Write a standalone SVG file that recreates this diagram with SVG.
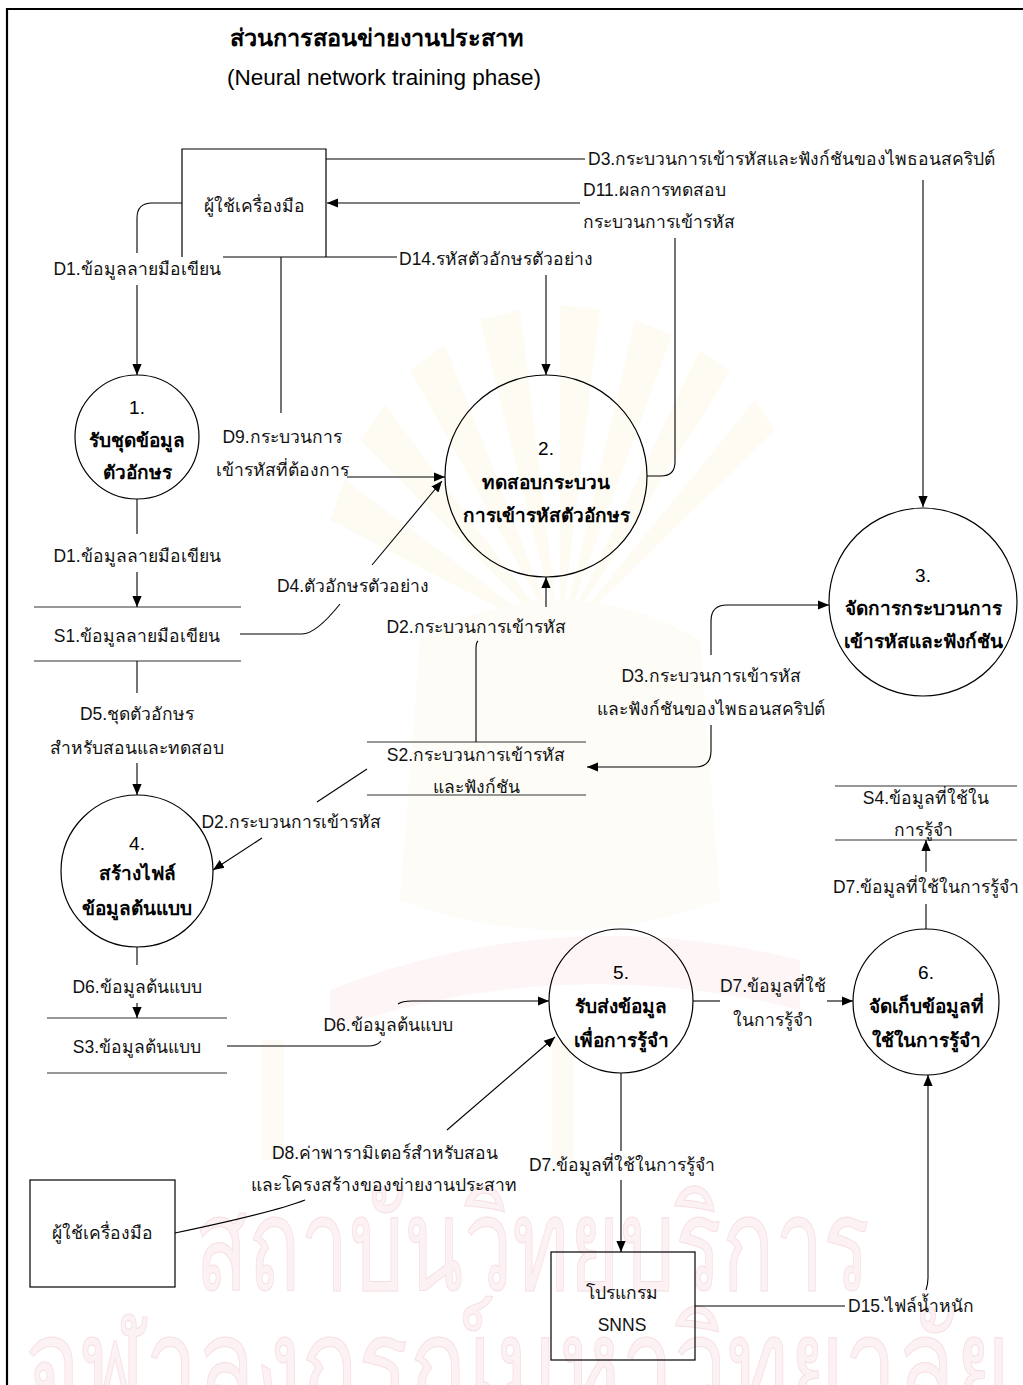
<svg xmlns="http://www.w3.org/2000/svg" width="1023" height="1385" viewBox="0 0 1023 1385">
  <style>
    .lbl { font-family: "Liberation Sans", "Noto Sans", sans-serif; font-size: 17.5px; fill: #111; text-anchor: middle; dominant-baseline: central; }
    .lft { text-anchor: start; }
    .nd { font-family: "Liberation Sans", "Noto Sans", sans-serif; font-size: 19px; fill: #000; text-anchor: middle; dominant-baseline: central; }
    .b { font-weight: bold; }
    .shape { fill: none; stroke: #000; stroke-width: 1.2; }
    .store { stroke: #333; stroke-width: 1.2; }
    .wire { fill: none; stroke: #000; stroke-width: 1.1; }
    .arr { marker-end: url(#ah); }
    .wm { font-family: "Liberation Sans", "Noto Sans", sans-serif; font-size: 130px; fill: #fcf1f3; stroke: #f6dfe3; stroke-width: 1; }
    .ray { fill: #fdfbf2; }
  </style>
  <defs>
    <marker id="ah" viewBox="0 0 10 10" refX="10" refY="5" markerWidth="11" markerHeight="11" markerUnits="userSpaceOnUse" orient="auto">
      <path d="M0,0.8 L10,5 L0,9.2 Z" fill="#000"/>
    </marker>
  </defs>

  <rect width="1023" height="1385" fill="#fff"/>

  <!-- faint emblem behind the chart: rays, crown body and ribbon -->
  <g id="emblem">
    <path class="ray" d="M560,640 L330,520 L345,480 Z M560,640 L360,440 L385,405 Z M560,640 L410,370 L445,345 Z M560,640 L480,320 L520,310 Z M560,640 L560,305 L600,310 Z M560,640 L635,320 L672,335 Z M560,640 L700,350 L730,372 Z M560,640 L755,400 L775,430 Z"/>
    <path d="M420,640 Q560,560 700,640 L720,900 Q560,960 400,900 Z" fill="#fdfcf7"/>
    <path d="M330,990 Q560,900 800,960 L800,1010 Q560,950 330,1030 Z" fill="#fdf5f6"/>
    <path d="M262,1040 h22 v120 h-22 Z M552,1040 h22 v120 h-22 Z" fill="#fdfbf4"/>
  </g>

  <!-- background watermark lettering -->
  <g id="watermark">
    <text class="wm" x="195" y="1290" textLength="675" lengthAdjust="spacingAndGlyphs">สถาบันวิทยบริการ</text>
    <text class="wm" x="25" y="1410" textLength="985" lengthAdjust="spacingAndGlyphs">จุฬาลงกรณ์มหาวิทยาลัย</text>
  </g>

  <!-- page frame -->
  <path d="M7,1385 V9 H1023" fill="none" stroke="#000" stroke-width="2.2"/>

  <g id="title">
    <text class="nd b" x="376" y="38" style="font-size:23.5px">ส่วนการสอนข่ายงานประสาท</text>
    <text class="nd" x="384" y="77" style="font-size:22.5px">(Neural network training phase)</text>
  </g>

  <!-- external entities -->
  <g id="user-top">
    <path class="shape" d="M182,257 V149 H326 V257 M223,257 H326"/>
    <text class="lbl" x="254" y="206">ผู้ใช้เครื่องมือ</text>
  </g>
  <g id="user-bottom">
    <rect class="shape" x="30" y="1180" width="145" height="107"/>
    <text class="lbl" x="102" y="1233">ผู้ใช้เครื่องมือ</text>
  </g>
  <g id="snns">
    <rect class="shape" x="551" y="1252" width="144" height="108"/>
    <text class="lbl" x="622" y="1293">โปรแกรม</text>
    <text class="lbl" x="622" y="1325">SNNS</text>
  </g>

  <!-- processes -->
  <g id="p1">
    <circle class="shape" cx="137" cy="437" r="62"/>
    <text class="nd" x="137" y="407">1.</text>
    <text class="nd b" x="137" y="440">รับชุดข้อมูล</text>
    <text class="nd b" x="137" y="472">ตัวอักษร</text>
  </g>
  <g id="p2">
    <circle class="shape" cx="546" cy="476" r="101"/>
    <text class="nd" x="546" y="448">2.</text>
    <text class="nd b" x="546" y="482">ทดสอบกระบวน</text>
    <text class="nd b" x="546" y="515">การเข้ารหัสตัวอักษร</text>
  </g>
  <g id="p3">
    <circle class="shape" cx="923" cy="602" r="94"/>
    <text class="nd" x="923" y="575">3.</text>
    <text class="nd b" x="923" y="608">จัดการกระบวนการ</text>
    <text class="nd b" x="923" y="641">เข้ารหัสและฟังก์ชัน</text>
  </g>
  <g id="p4">
    <circle class="shape" cx="137" cy="871" r="76"/>
    <text class="nd" x="137" y="843">4.</text>
    <text class="nd b" x="137" y="873">สร้างไฟล์</text>
    <text class="nd b" x="137" y="908">ข้อมูลต้นแบบ</text>
  </g>
  <g id="p5">
    <circle class="shape" cx="621" cy="1001" r="72"/>
    <text class="nd" x="621" y="972">5.</text>
    <text class="nd b" x="621" y="1006">รับส่งข้อมูล</text>
    <text class="nd b" x="621" y="1040">เพื่อการรู้จำ</text>
  </g>
  <g id="p6">
    <circle class="shape" cx="926" cy="1002" r="73"/>
    <text class="nd" x="926" y="972">6.</text>
    <text class="nd b" x="926" y="1006">จัดเก็บข้อมูลที่</text>
    <text class="nd b" x="926" y="1040">ใช้ในการรู้จำ</text>
  </g>

  <!-- data stores -->
  <g id="s1">
    <path class="store" d="M34,607 H241 M34,661 H241"/>
    <text class="lbl" x="137" y="636">S1.ข้อมูลลายมือเขียน</text>
  </g>
  <g id="s2">
    <path class="store" d="M367,742 H586 M367,795 H586"/>
    <text class="lbl" x="476" y="755">S2.กระบวนการเข้ารหัส</text>
    <text class="lbl" x="476" y="787">และฟังก์ชัน</text>
  </g>
  <g id="s3">
    <path class="store" d="M47,1018 H227 M47,1073 H227"/>
    <text class="lbl" x="137" y="1047">S3.ข้อมูลต้นแบบ</text>
  </g>
  <g id="s4">
    <path class="store" d="M835,786 H1017 M835,840 H1017"/>
    <text class="lbl" x="926" y="798">S4.ข้อมูลที่ใช้ใน</text>
    <text class="lbl" x="923" y="830">การรู้จำ</text>
  </g>

  <!-- data flows -->
  <g id="flows">
    <path class="wire" d="M326,159 H585"/>
    <path class="wire arr" d="M923,180 V507"/>
    <path class="wire arr" d="M580,203 H327"/>
    <path class="wire" d="M675,238 V462 Q675,476 661,476 H647"/>
    <path class="wire" d="M182,203 H152 Q137,203 137,218 V253"/>
    <path class="wire arr" d="M137,285 V375"/>
    <path class="wire" d="M281,257 V413"/>
    <path class="wire arr" d="M347,477 H445"/>
    <path class="wire" d="M326,257 H397"/>
    <path class="wire arr" d="M546,275 V375"/>
    <path class="wire" d="M137,499 V534"/>
    <path class="wire arr" d="M137,572 V607"/>
    <path class="wire" d="M240,634 H302 Q316,634 340,604"/>
    <path class="wire arr" d="M372,565 L442,481"/>
    <path class="wire" d="M137,661 V693"/>
    <path class="wire arr" d="M137,763 V795"/>
    <path class="wire" d="M367,769 L317,802"/>
    <path class="wire arr" d="M262,838 L213,870"/>
    <path class="wire" d="M476,742 V648 Q476,643 478,641"/>
    <path class="wire arr" d="M546,607 V577"/>
    <path class="wire arr" d="M711,655 V621 Q711,605 727,605 H829"/>
    <path class="wire arr" d="M711,725 V751 Q711,767 695,767 H587"/>
    <path class="wire" d="M926,929 V904"/>
    <path class="wire arr" d="M926,872 V840"/>
    <path class="wire" d="M693,1001 H720"/>
    <path class="wire arr" d="M827,1001 H853"/>
    <path class="wire" d="M137,947 V965"/>
    <path class="wire arr" d="M137,1003 V1018"/>
    <path class="wire" d="M227,1046 H368 Q377,1046 381,1041"/>
    <path class="wire arr" d="M398,1004 Q402,1001 412,1001 H549"/>
    <path class="wire" d="M175,1233 Q275,1212 305,1200"/>
    <path class="wire arr" d="M447,1130 L555,1037"/>
    <path class="wire" d="M621,1073 V1151"/>
    <path class="wire arr" d="M621,1180 V1252"/>
    <path class="wire" d="M695,1306 H845"/>
    <path class="wire arr" d="M926,1290 Q928,1284 928,1278 V1075"/>

    <text class="lbl lft" x="588" y="159">D3.กระบวนการเข้ารหัสและฟังก์ชันของไพธอนสคริปต์</text>
    <text class="lbl lft" x="583" y="190">D11.ผลการทดสอบ</text>
    <text class="lbl lft" x="583" y="222">กระบวนการเข้ารหัส</text>
    <text class="lbl lft" x="399" y="259">D14.รหัสตัวอักษรตัวอย่าง</text>
    <text class="lbl" x="137" y="269">D1.ข้อมูลลายมือเขียน</text>
    <text class="lbl" x="282" y="437">D9.กระบวนการ</text>
    <text class="lbl" x="282" y="470">เข้ารหัสที่ต้องการ</text>
    <text class="lbl" x="137" y="556">D1.ข้อมูลลายมือเขียน</text>
    <text class="lbl" x="353" y="586">D4.ตัวอักษรตัวอย่าง</text>
    <text class="lbl" x="476" y="627">D2.กระบวนการเข้ารหัส</text>
    <text class="lbl" x="711" y="676">D3.กระบวนการเข้ารหัส</text>
    <text class="lbl" x="711" y="709">และฟังก์ชันของไพธอนสคริปต์</text>
    <text class="lbl" x="137" y="714">D5.ชุดตัวอักษร</text>
    <text class="lbl" x="137" y="748">สำหรับสอนและทดสอบ</text>
    <text class="lbl" x="291" y="822">D2.กระบวนการเข้ารหัส</text>
    <text class="lbl" x="926" y="887">D7.ข้อมูลที่ใช้ในการรู้จำ</text>
    <text class="lbl" x="773" y="986">D7.ข้อมูลที่ใช้</text>
    <text class="lbl" x="773" y="1020">ในการรู้จำ</text>
    <text class="lbl" x="137" y="987">D6.ข้อมูลต้นแบบ</text>
    <text class="lbl" x="388" y="1025">D6.ข้อมูลต้นแบบ</text>
    <text class="lbl" x="385" y="1153">D8.ค่าพารามิเตอร์สำหรับสอน</text>
    <text class="lbl" x="384" y="1185">และโครงสร้างของข่ายงานประสาท</text>
    <text class="lbl" x="622" y="1165">D7.ข้อมูลที่ใช้ในการรู้จำ</text>
    <text class="lbl lft" x="848" y="1306">D15.ไฟล์น้ำหนัก</text>
  </g>
</svg>
